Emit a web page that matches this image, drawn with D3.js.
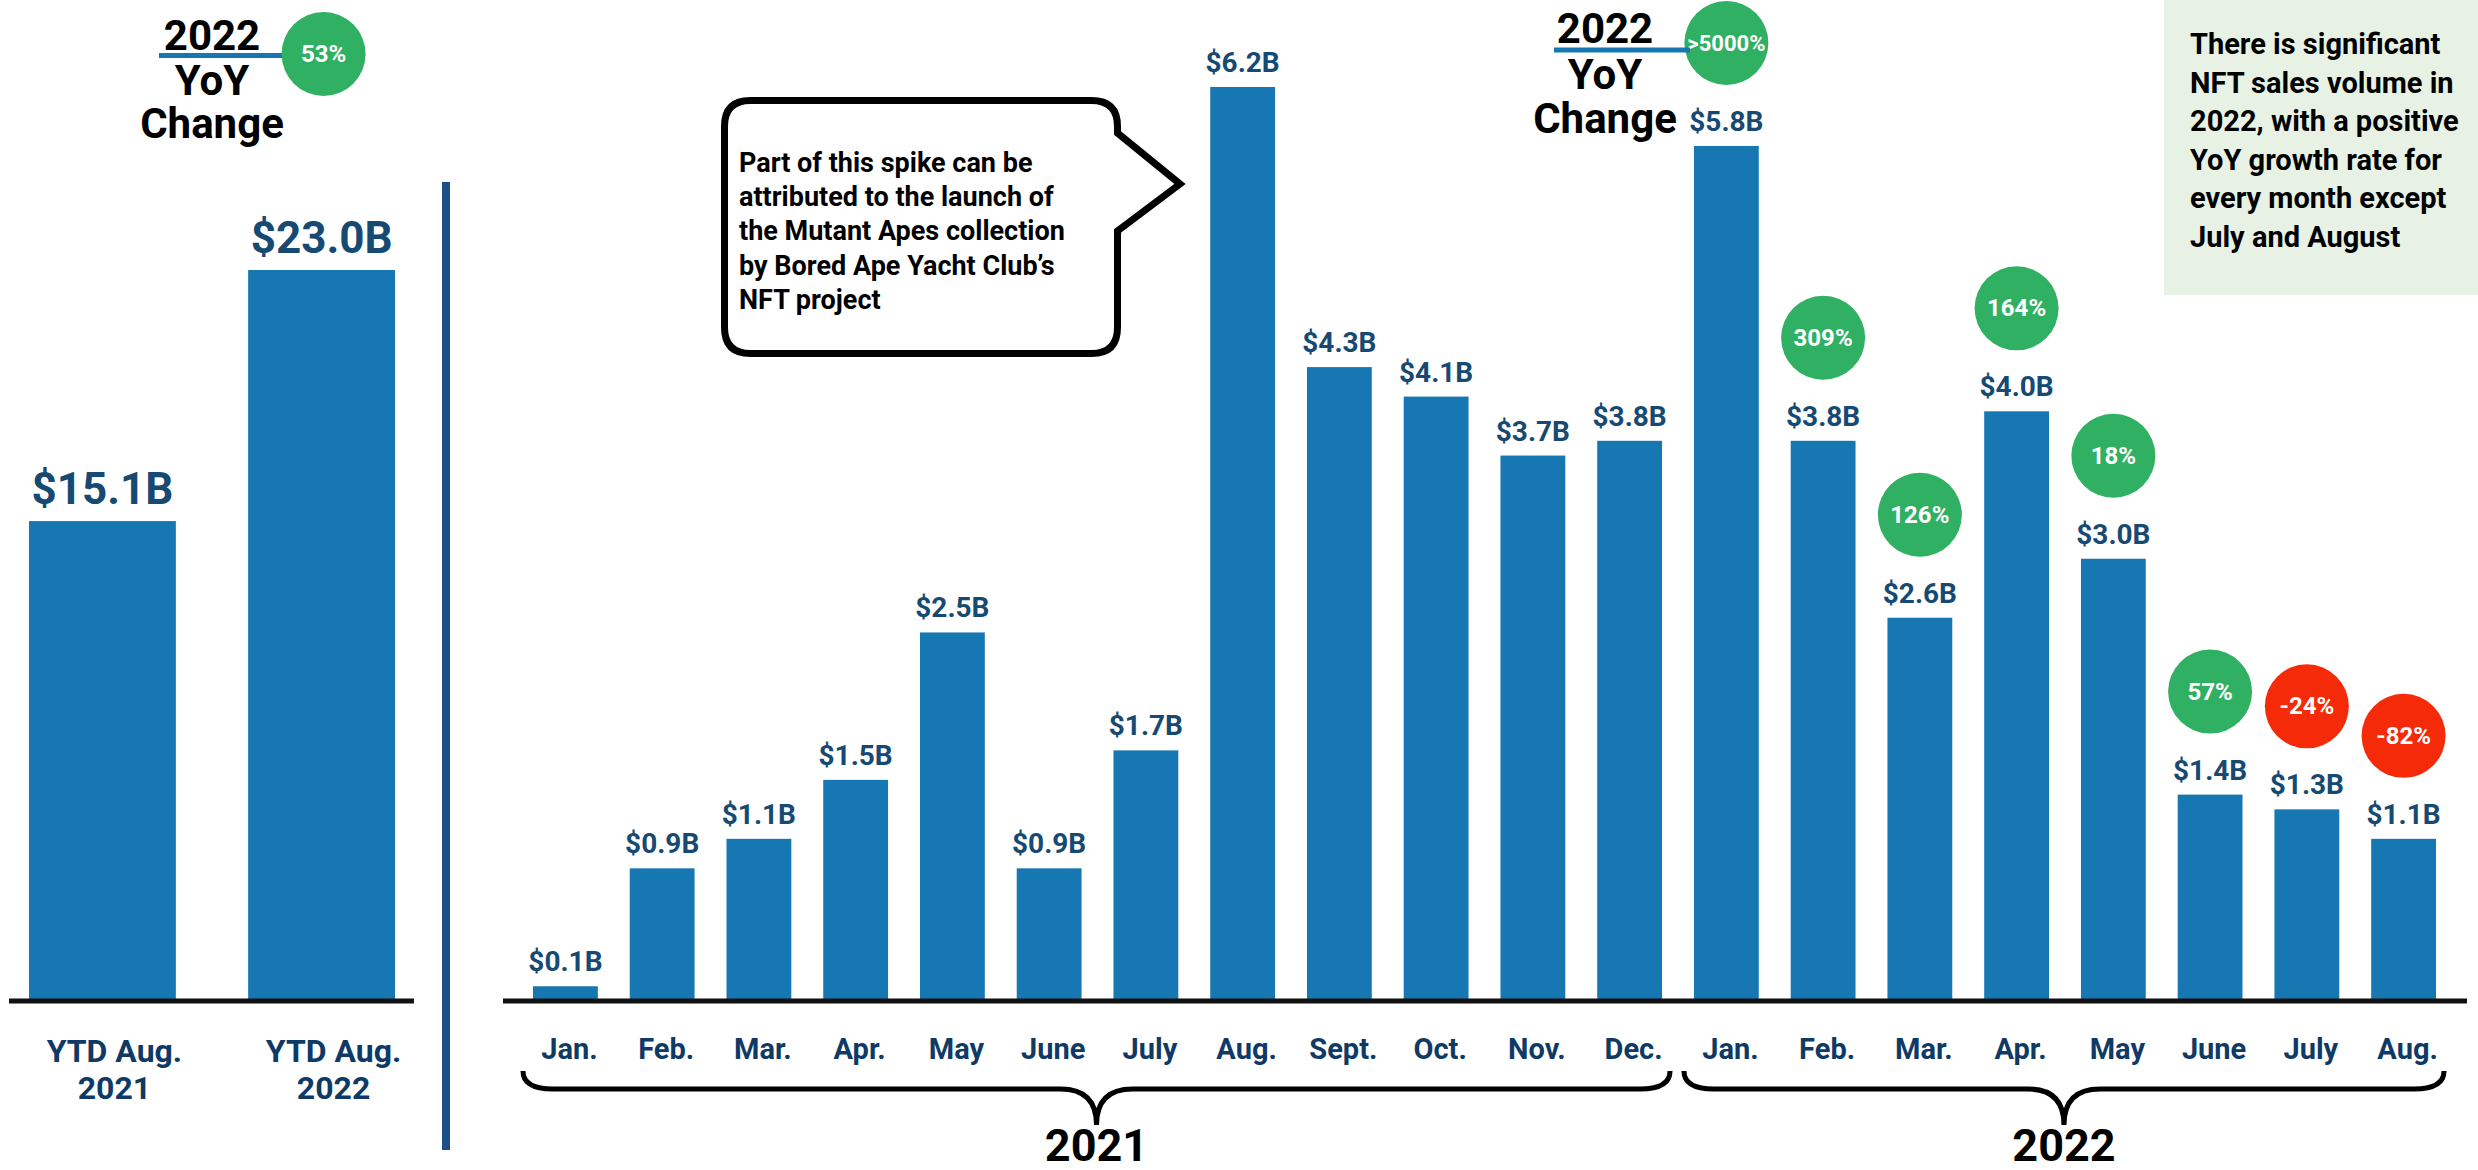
<!DOCTYPE html>
<html>
<head>
<meta charset="utf-8">
<script src="https://cdn.jsdelivr.net/npm/d3@7"></script>
<style>
  html, body { margin: 0; padding: 0; background: #ffffff; }
  svg { display: block; font-family: Roboto, "Noto Sans", sans-serif; font-weight: 700; }
</style>
</head>
<body>
<svg id="chart" width="2478" height="1170"></svg>
<script>
// ---------- data ----------
const ytdCategories = ["YTD Aug. 2021", "YTD Aug. 2022"];
const ytdLabelLines = [["YTD Aug.", "2021"], ["YTD Aug.", "2022"]];
const ytdValues = [15.1, 23.0];
const ytdYoY = "53%";

const months2021 = ["Jan.", "Feb.", "Mar.", "Apr.", "May", "June", "July", "Aug.", "Sept.", "Oct.", "Nov.", "Dec."];
const sales2021 = [0.1, 0.9, 1.1, 1.5, 2.5, 0.9, 1.7, 6.2, 4.3, 4.1, 3.7, 3.8];
const months2022 = ["Jan.", "Feb.", "Mar.", "Apr.", "May", "June", "July", "Aug."];
const sales2022 = [5.8, 3.8, 2.6, 4.0, 3.0, 1.4, 1.3, 1.1];
const yoy2022 = [">5000%", "309%", "126%", "164%", "18%", "57%", "-24%", "-82%"];
const yoySign2022 = [1, 1, 1, 1, 1, 1, -1, -1];
const yearLabels = ["2021", "2022"];

const titleLines = ["2022", "YoY", "Change"];
const calloutLines = [
  "Part of this spike can be",
  "attributed to the launch of",
  "the Mutant Apes collection",
  "by Bored Ape Yacht Club\u2019s",
  "NFT project"
];
const noteLines = [
  "There is significant",
  "NFT sales volume in",
  "2022, with a positive",
  "YoY growth rate for",
  "every month except",
  "July and August"
];

// ---------- style ----------
const BAR = "#1677b3";
const VALUE = "#174a72";
const NAVY = "#0f3a66";
const GREEN = "#30b063";
const RED = "#f52a08";

const svg = d3.select("#chart");
const baseY = 1001;

// ---------- left panel ----------
const xL = d3.scaleBand().domain(ytdCategories).range([29, 395]).paddingInner(0.33).paddingOuter(0);
const yL = d3.scaleLinear().domain([0, 23]).range([baseY, 270]);

const ytd = ytdCategories.map((c, i) => ({ c, v: ytdValues[i], lines: ytdLabelLines[i] }));

svg.append("g").selectAll("rect").data(ytd).join("rect")
  .attr("x", d => xL(d.c)).attr("width", xL.bandwidth())
  .attr("y", d => yL(d.v)).attr("height", d => yL(0) - yL(d.v))
  .attr("fill", BAR);

svg.append("g").selectAll("text").data(ytd).join("text")
  .attr("x", d => xL(d.c) + xL.bandwidth() / 2)
  .attr("y", d => yL(d.v) - 17)
  .attr("text-anchor", "middle").attr("font-size", 44).attr("fill", VALUE)
  .text(d => "$" + d.v.toFixed(1) + "B");

svg.append("line").attr("x1", 9).attr("x2", 414).attr("y1", baseY).attr("y2", baseY)
  .attr("stroke", "#111").attr("stroke-width", 5);

const ytdLab = svg.append("g").selectAll("text").data(ytd).join("text")
  .attr("text-anchor", "middle").attr("font-size", 32).attr("fill", NAVY);
ytdLab.each(function (d) {
  const cx = xL(d.c) + xL.bandwidth() / 2 + 12;
  d3.select(this).selectAll("tspan").data(d.lines).join("tspan")
    .attr("x", cx).attr("y", (l, j) => 1062 + j * 37).text(l => l);
});

function stackedTitle(x, ys) {
  const t = svg.append("text").attr("text-anchor", "middle").attr("font-size", 42).attr("fill", "#000");
  t.selectAll("tspan").data(titleLines).join("tspan")
    .attr("x", x).attr("y", (d, i) => ys[i]).text(d => d);
}

// left title + badge
svg.append("line").attr("x1", 159).attr("x2", 290).attr("y1", 55.5).attr("y2", 55.5)
  .attr("stroke", BAR).attr("stroke-width", 5);
stackedTitle(212, [50, 95, 138]);
const lb = svg.append("g").attr("transform", `translate(${xL(ytdCategories[1]) + xL.bandwidth() / 2 + 2},54)`);
lb.append("circle").attr("r", 42).attr("fill", GREEN);
lb.append("text").attr("y", 8).attr("text-anchor", "middle").attr("font-size", 24).attr("fill", "#fff").text(ytdYoY);

// divider
svg.append("line").attr("x1", 446).attr("x2", 446).attr("y1", 182).attr("y2", 1150)
  .attr("stroke", "#1b4f86").attr("stroke-width", 8);

// ---------- right panel ----------
const monthly = [
  ...months2021.map((m, i) => ({ key: m + " 2021", m, v: sales2021[i], year: 0 })),
  ...months2022.map((m, i) => ({ key: m + " 2022", m, v: sales2022[i], year: 1, yoy: yoy2022[i], sign: yoySign2022[i] }))
];
const xR = d3.scaleBand().domain(monthly.map(d => d.key)).range([533, 2436]).paddingInner(0.33).paddingOuter(0);
const yR = d3.scaleLinear().domain([0, 6.2]).range([baseY, 87]);
const bw = xR.bandwidth();
const cx = d => xR(d.key) + bw / 2;

svg.append("g").selectAll("rect").data(monthly).join("rect")
  .attr("x", d => xR(d.key)).attr("width", bw)
  .attr("y", d => yR(d.v)).attr("height", d => yR(0) - yR(d.v))
  .attr("fill", BAR);

svg.append("g").selectAll("text").data(monthly).join("text")
  .attr("x", cx).attr("y", d => yR(d.v) - 15)
  .attr("text-anchor", "middle").attr("font-size", 28).attr("fill", VALUE)
  .text(d => "$" + d.v.toFixed(1) + "B");

svg.append("line").attr("x1", 503).attr("x2", 2467).attr("y1", baseY).attr("y2", baseY)
  .attr("stroke", "#111").attr("stroke-width", 5);

// month axis labels
const axis = d3.axisBottom(xR).tickSize(0).tickFormat(k => monthly.find(d => d.key === k).m);
const axG = svg.append("g").attr("transform", `translate(4,${baseY})`).call(axis);
axG.select(".domain").remove();
axG.selectAll("text").attr("dy", 0).attr("y", 58).attr("font-size", 29)
  .attr("font-family", "Roboto").attr("font-weight", 700).attr("fill", NAVY);

// YoY badges
const badges = svg.append("g").selectAll("g").data(monthly.filter(d => d.yoy)).join("g")
  .attr("transform", d => `translate(${cx(d)},${yR(d.v) - 103})`);
badges.append("circle").attr("r", 42).attr("fill", d => d.sign > 0 ? GREEN : RED);
badges.append("text").attr("y", 8).attr("text-anchor", "middle")
  .attr("font-size", d => d.yoy.length > 5 ? 22 : 24).attr("fill", "#fff").text(d => d.yoy);

// right title
svg.append("line").attr("x1", 1554).attr("x2", 1690).attr("y1", 50).attr("y2", 50)
  .attr("stroke", BAR).attr("stroke-width", 5);
stackedTitle(1605, [43, 89, 133]);

// braces
function bracePath(x0, x1) {
  const top = 1071, mid = 1089, tip = 1125, m = (x0 + x1) / 2;
  return `M${x0},${top} Q${x0},${mid} ${x0 + 30},${mid} H${m - 36} Q${m},${mid} ${m},${tip} ` +
         `M${m},${tip} Q${m},${mid} ${m + 36},${mid} H${x1 - 30} Q${x1},${mid} ${x1},${top}`;
}
const groups = [0, 1].map(yi => {
  const items = monthly.filter(d => d.year === yi);
  const x0 = xR(items[0].key) - 10;
  const x1 = xR(items[items.length - 1].key) + bw + 8;
  return { x0, x1, label: yearLabels[yi] };
});
svg.append("g").selectAll("path").data(groups).join("path")
  .attr("d", g => bracePath(g.x0, g.x1))
  .attr("fill", "none").attr("stroke", "#000").attr("stroke-width", 5);
svg.append("g").selectAll("text").data(groups).join("text")
  .attr("x", g => (g.x0 + g.x1) / 2).attr("y", 1161)
  .attr("text-anchor", "middle").attr("font-size", 45).attr("fill", "#000")
  .text(g => g.label);

// callout bubble
const bx0 = 724.5, by0 = 100.5, bx1 = 1117.5, by1 = 353.5, r = 26;
const bubble = `M${bx0 + r},${by0} H${bx1 - r} Q${bx1},${by0} ${bx1},${by0 + r} V133 L1180,184 L${bx1},231 ` +
  `V${by1 - r} Q${bx1},${by1} ${bx1 - r},${by1} H${bx0 + r} Q${bx0},${by1} ${bx0},${by1 - r} V${by0 + r} Q${bx0},${by0} ${bx0 + r},${by0} Z`;
svg.append("path").attr("d", bubble).attr("fill", "#fff").attr("stroke", "#000")
  .attr("stroke-width", 7).attr("stroke-linejoin", "miter");
svg.append("g").selectAll("text").data(calloutLines).join("text")
  .attr("x", 739).attr("y", (d, i) => 172 + i * 34.2)
  .attr("font-size", 27).attr("fill", "#000").text(d => d);

// note box
svg.append("rect").attr("x", 2164).attr("y", 0).attr("width", 314).attr("height", 295).attr("fill", "#e7f2e5");
svg.append("g").selectAll("text").data(noteLines).join("text")
  .attr("x", 2190).attr("y", (d, i) => 54 + i * 38.6)
  .attr("font-size", 29).attr("fill", "#000").text(d => d);
</script>
</body>
</html>
